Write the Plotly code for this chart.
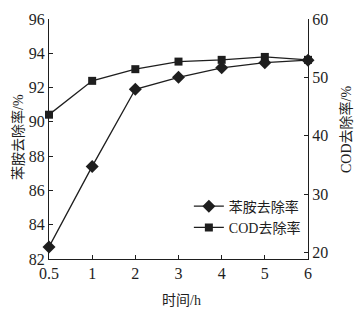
import plotly.graph_objects as go

time_labels = ["0.5", "1", "2", "3", "4", "5", "6"]
aniline_removal = [82.7, 87.4, 91.9, 92.6, 93.15, 93.45, 93.6]
cod_removal = [43.6, 49.4, 51.4, 52.7, 53.0, 53.5, 53.0]

left_ticks = [82, 84, 86, 88, 90, 92, 94, 96]
right_ticks = [20, 30, 40, 50, 60]

ink = "#1e1e1e"
num_font = "Liberation Serif, Times New Roman, serif"
cjk_font = "Liberation Serif, Noto Sans CJK SC, serif"

fig = go.Figure()
fig.add_trace(go.Scatter(
    x=time_labels, y=aniline_removal, name="苯胺去除率", mode="lines+markers",
    line=dict(color=ink, width=1.3),
    marker=dict(symbol="diamond", size=10, color=ink),
    cliponaxis=False, yaxis="y",
))
fig.add_trace(go.Scatter(
    x=time_labels, y=cod_removal, name="COD去除率", mode="lines+markers",
    line=dict(color=ink, width=1.3),
    marker=dict(symbol="square", size=8, color=ink),
    cliponaxis=False, yaxis="y2",
))

axis_common = dict(
    showgrid=False, zeroline=False, showline=True, linecolor=ink, linewidth=1.3,
    ticks="inside", ticklen=4, tickwidth=1.2, tickcolor=ink,
    tickfont=dict(family=num_font, size=16, color=ink),
)

fig.update_layout(
    width=357, height=313,
    margin=dict(l=49, r=49, t=19, b=54),
    paper_bgcolor="white", plot_bgcolor="white",
    showlegend=True,
    legend=dict(
        x=0.54, y=0.285, xanchor="left", yanchor="top",
        bgcolor="rgba(0,0,0,0)", font=dict(family=cjk_font, size=14, color=ink),
        itemwidth=30, tracegroupgap=0,
    ),
    xaxis=dict(
        type="category", categoryorder="array", categoryarray=time_labels,
        range=[0, 6], **axis_common,
    ),
    yaxis=dict(range=[82, 96], tickvals=left_ticks, **axis_common),
    yaxis2=dict(range=[18.87, 60], tickvals=right_ticks, overlaying="y", side="right",
                **axis_common),
    annotations=[
        dict(text="苯胺去除率/%", xref="paper", yref="paper", x=-49/259 + 18/259, y=0.5 + (139 - 137) / 240,
             xanchor="center", yanchor="middle", textangle=-90, showarrow=False,
             font=dict(family=cjk_font, size=14, color=ink)),
        dict(text="COD去除率/%", xref="paper", yref="paper", x=1 + (346 - 308) / 259, y=0.5 + (139 - 130) / 240,
             xanchor="center", yanchor="middle", textangle=-90, showarrow=False,
             font=dict(family=cjk_font, size=14, color=ink)),
        dict(text="时间/h", xref="paper", yref="paper", x=(181 - 49) / 259, y=-(300 - 259) / 240,
             xanchor="center", yanchor="middle", showarrow=False,
             font=dict(family=cjk_font, size=14, color=ink)),
    ],
)

fig.write_html("out.html")
